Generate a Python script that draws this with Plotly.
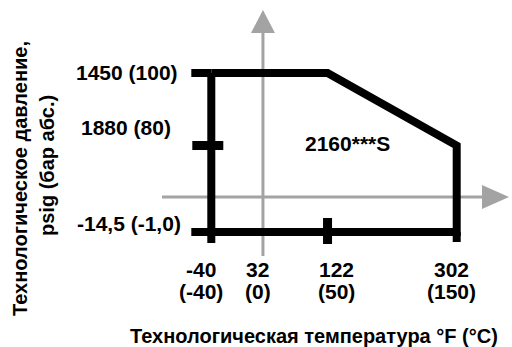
import numpy as np
import plotly.graph_objects as go

# ---- data -------------------------------------------------------------
# temperature ticks
temp_f = [-40, 32, 122, 302]
temp_f_labels = ["-40", "32", "122", "302"]
temp_c_labels = ["(-40)", "(0)", "(50)", "(150)"]

# pressure ticks (bar abs.) and their labels
pressure_bar = [-1.0, 80, 100]
pressure_labels = ["-14,5 (-1,0)", "1880 (80)", "1450 (100)"]

# operating envelope corners: temperature °F, pressure bar
env_temp_f = [-40, 122, 302, 302, -40, -40]
env_bar = [100, 100, 80, -1.0, -1.0, 100]

model_label = "2160***S"
x_title = "Технологическая температура °F (°C)"
y_title_lines = ["Технологическое давление,", "psig (бар абс.)"]

# ---- schematic scales -------------------------------------------------
W, H = 512, 347
# pressure axis is schematic: each band between labelled levels has its own height
LEVEL_BAR = [-1.0, 0.0, 80.0, 100.0]
LEVEL_POS = [0.0, 35.0, 86.5, 159.0]


def p_level(bar):
    return np.interp(bar, LEVEL_BAR, LEVEL_POS)


# plot area covers the whole page; ranges chosen so the envelope sits where it should
X_PX_LEFT, X_K = 211.3, (456.7 - 211.3) / 342.0  # px of -40 °F, px per °F
Y_PX_BOTTOM = 232.0  # px of level 0
x_range = [-40 - X_PX_LEFT / X_K, -40 + (W - X_PX_LEFT) / X_K]
y_range = [-(H - Y_PX_BOTTOM), Y_PX_BOTTOM]

FONT = "Liberation Sans"
INK = "#000000"
GREY = "#a3a3a3"
LW = 8

fig = go.Figure()

# envelope outline
fig.add_trace(go.Scatter(
    x=env_temp_f, y=[p_level(b) for b in env_bar],
    mode="lines", line=dict(color=INK, width=LW),
    hoverinfo="skip", showlegend=False,
))

shapes = []

# grey coordinate axes with arrowheads (0 °C vertical, 0 bar horizontal)
shapes.append(dict(type="line", xref="x", yref="paper",
                   x0=32, x1=32, y0=1 - 256 / H, y1=1 - 32 / H,
                   line=dict(color=GREY, width=3), layer="below"))
shapes.append(dict(type="path", xref="x", yref="paper",
                   xsizemode="pixel", ysizemode="pixel",
                   xanchor=32, yanchor=1 - 10 / H,
                   path="M0,0 L-12,-23 L12,-23 Z",
                   fillcolor=GREY, line=dict(width=0), layer="below"))
shapes.append(dict(type="line", xref="paper", yref="y",
                   x0=162 / W, x1=483 / W, y0=p_level(0), y1=p_level(0),
                   line=dict(color=GREY, width=3), layer="below"))
shapes.append(dict(type="path", xref="paper", yref="y",
                   xsizemode="pixel", ysizemode="pixel",
                   xanchor=509 / W, yanchor=p_level(0),
                   path="M0,0 L-27,12 L-27,-12 Z",
                   fillcolor=GREY, line=dict(width=0), layer="below"))


def stub(xa, ya, x0, x1, y0, y1, w=LW):
    return dict(type="line", xref="x", yref="y",
                xsizemode="pixel", ysizemode="pixel",
                xanchor=xa, yanchor=ya, x0=x0, x1=x1, y0=y0, y1=y1,
                line=dict(color=INK, width=w))


t_min, t_max = min(env_temp_f), max(env_temp_f)
p_min, p_max = min(env_bar), max(env_bar)
# overhanging ends at the corners
shapes.append(stub(t_min, p_level(p_max), -20, 0, 0, 0))
shapes.append(stub(t_min, p_level(p_min), -20, 0, 0, 0))
shapes.append(stub(t_min, p_level(p_min), 0, 0, 0, -11))
shapes.append(stub(t_max, p_level(p_min), 0, 0, 0, -10))
# tick marks on the envelope
shapes.append(stub(t_min, p_level(pressure_bar[1]), -19, 12, 0, 0, w=9))
shapes.append(stub(temp_f[2], p_level(p_min), 0, 0, 14, -12, w=9))

ann = []
tick_font = dict(family=FONT, size=21, color=INK, weight="bold")

# pressure labels
for bar, lab, dx, dy in zip(pressure_bar, pressure_labels, [1, -9, -2], [8.5, 18, 0.5]):
    ann.append(dict(text=lab, xref="paper", yref="y", x=182 / W, y=p_level(bar),
                    xanchor="right", yanchor="middle", xshift=dx, yshift=dy,
                    showarrow=False, font=tick_font))

# temperature labels, °F above °C
for tf, lf, lc, dx in zip(temp_f, temp_f_labels, temp_c_labels, [-10, -5, 8.5, -5]):
    ann.append(dict(text=lf, xref="x", yref="paper", x=tf, y=1 - 269 / H,
                    xanchor="center", yanchor="middle", xshift=dx,
                    showarrow=False, font=tick_font))
    ann.append(dict(text=lc, xref="x", yref="paper", x=tf, y=1 - 291 / H,
                    xanchor="center", yanchor="middle", xshift=dx,
                    showarrow=False, font=tick_font))

# model designation inside the envelope
ann.append(dict(text=model_label, xref="paper", yref="paper",
                x=347 / W, y=1 - 143 / H, xanchor="center", yanchor="middle",
                showarrow=False, font=tick_font))

title_font = dict(family=FONT, size=20, color=INK, weight="bold")
ann.append(dict(text=x_title, xref="paper", yref="paper",
                x=314 / W, y=1 - 336 / H, xanchor="center", yanchor="middle",
                showarrow=False, font=title_font))
ann.append(dict(text=y_title_lines[0], xref="paper", yref="paper",
                x=20 / W, y=1 - 179 / H, xanchor="center", yanchor="middle",
                textangle=-90, showarrow=False, font=title_font))
ann.append(dict(text=y_title_lines[1], xref="paper", yref="paper",
                x=47 / W, y=1 - 166 / H, xanchor="center", yanchor="middle",
                textangle=-90, showarrow=False, font=title_font))

fig.update_layout(
    width=W, height=H,
    margin=dict(l=0, r=0, t=0, b=0),
    paper_bgcolor="white", plot_bgcolor="white",
    xaxis=dict(range=x_range, visible=False, fixedrange=True),
    yaxis=dict(range=y_range, visible=False, fixedrange=True),
    shapes=shapes, annotations=ann,
    showlegend=False,
)

fig.write_html("out.html", config={"displayModeBar": False})
